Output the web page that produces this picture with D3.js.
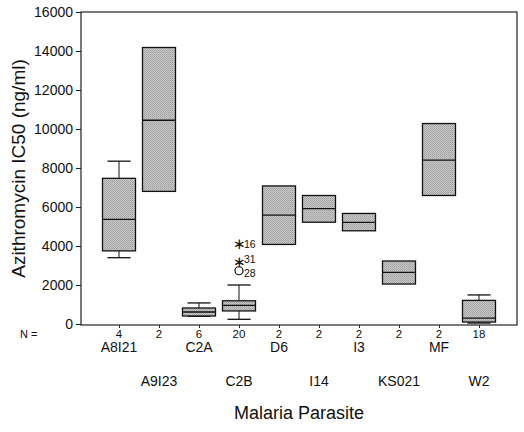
<!DOCTYPE html>
<html><head><meta charset="utf-8">
<script src="https://cdn.jsdelivr.net/npm/d3@7"></script>
<style>body{margin:0;background:#fff}svg{display:block;font-family:"Liberation Sans",Arial,sans-serif}</style>
</head><body><svg id="c" width="524" height="432"></svg>
<script>
const categories = ["A8I21","A9I23","C2A","C2B","D6","I14","I3","KS021","MF","W2"];
const counts = [4,2,6,20,2,2,2,2,2,18];
const whiskerLow = [3400,null,400,240,null,null,null,null,null,50];
const q1 = [3750,6800,410,670,4080,5220,4780,2050,6590,100];
const median = [5370,10450,615,960,5580,5920,5210,2650,8400,300];
const q3 = [7470,14180,820,1190,7080,6590,5670,3230,10280,1210];
const whiskerHigh = [8350,null,1080,2000,null,null,null,null,null,1490];
const outliers = [
  {cat:"C2B", value:4100, label:"16", symbol:"star"},
  {cat:"C2B", value:3190, label:"31", symbol:"star"},
  {cat:"C2B", value:2730, label:"28", symbol:"circle"}
];
const yTicks = [0,2000,4000,6000,8000,10000,12000,14000,16000];

const svg = d3.select("#c");
const defs = svg.append("defs");
const pat = defs.append("pattern").attr("id","stip").attr("patternUnits","userSpaceOnUse").attr("width",2).attr("height",2);
pat.append("rect").attr("width",2).attr("height",2).attr("fill","#c8c8c8");
pat.append("rect").attr("width",1).attr("height",1).attr("fill","#a0a0a0");
pat.append("rect").attr("x",1).attr("y",1).attr("width",1).attr("height",1).attr("fill","#acacac");

const L=81, R=517, T=12, B=325;
const x = d3.scalePoint().domain(categories).range([L,R]).padding(0.95);
const y = d3.scaleLinear().domain([0,16000]).range([B-1,T]);
const bw = 33;

svg.append("rect").attr("x",L).attr("y",T).attr("width",R-L).attr("height",B-T)
  .attr("fill","none").attr("stroke","#222").attr("stroke-width",1.2);

const ya = svg.append("g").attr("transform",`translate(${L},0)`)
  .call(d3.axisLeft(y).tickValues(yTicks).tickSize(5).tickPadding(3).tickFormat(d3.format("d")));
ya.select(".domain").remove();
ya.selectAll("line").attr("stroke","#222");
ya.selectAll("text").attr("font-size",14).attr("fill","#111");

const xa = svg.append("g").attr("transform",`translate(0,${B})`)
  .call(d3.axisBottom(x).tickSize(3).tickFormat(""));
xa.select(".domain").remove();
xa.selectAll("line").attr("stroke","#222");

svg.append("text").attr("x",20).attr("y",338).attr("font-size",11).attr("fill","#111").text("N =");
svg.selectAll(".n").data(categories).enter().append("text")
  .attr("x",d=>x(d)).attr("y",338).attr("text-anchor","middle").attr("font-size",11.5).attr("fill","#111")
  .text((d,i)=>counts[i]);

svg.selectAll(".cl").data(categories).enter().append("text")
  .attr("x",d=>x(d)).attr("y",(d,i)=> i%2===0 ? 352 : 386)
  .attr("text-anchor","middle").attr("font-size",14).attr("fill","#111").text(d=>d);

const g = svg.append("g");
categories.forEach((c,i)=>{
  const cx = x(c);
  if (whiskerHigh[i]!=null){
    g.append("line").attr("x1",cx).attr("x2",cx).attr("y1",y(q3[i])).attr("y2",y(whiskerHigh[i])).attr("stroke","#111");
    g.append("line").attr("x1",cx-bw*0.35).attr("x2",cx+bw*0.35).attr("y1",y(whiskerHigh[i])).attr("y2",y(whiskerHigh[i])).attr("stroke","#111").attr("stroke-width",1.3);
  }
  if (whiskerLow[i]!=null){
    g.append("line").attr("x1",cx).attr("x2",cx).attr("y1",y(q1[i])).attr("y2",y(whiskerLow[i])).attr("stroke","#111");
    g.append("line").attr("x1",cx-bw*0.35).attr("x2",cx+bw*0.35).attr("y1",y(whiskerLow[i])).attr("y2",y(whiskerLow[i])).attr("stroke","#111").attr("stroke-width",1.3);
  }
  g.append("rect").attr("x",cx-bw/2).attr("width",bw).attr("y",y(q3[i])).attr("height",y(q1[i])-y(q3[i]))
    .attr("fill","url(#stip)").attr("stroke","#111").attr("stroke-width",1.3);
  g.append("line").attr("x1",cx-bw/2).attr("x2",cx+bw/2).attr("y1",y(median[i])).attr("y2",y(median[i])).attr("stroke","#111").attr("stroke-width",1.3);
});

const labelShift = {"16":3.5, "31":1.5, "28":6};
outliers.forEach(o=>{
  const cx = x(o.cat), cy = y(o.value);
  if (o.symbol==="star"){
    g.append("text").attr("x",cx).attr("y",cy+5).attr("text-anchor","middle").attr("font-size",15).attr("fill","#111").text("\u2217");
  } else {
    g.append("circle").attr("cx",cx).attr("cy",cy).attr("r",4).attr("fill","none").attr("stroke","#111").attr("stroke-width",1.2);
  }
  g.append("text").attr("x",cx+5).attr("y",cy+labelShift[o.label]).attr("font-size",10.5).attr("fill","#111").text(o.label);
});

svg.append("text").attr("transform",`translate(25,${(T+B)/2}) rotate(-90)`).attr("text-anchor","middle")
  .attr("font-size",19).attr("fill","#111").text("Azithromycin IC50 (ng/ml)");
svg.append("text").attr("x",299).attr("y",419).attr("text-anchor","middle").attr("font-size",18).attr("fill","#111").text("Malaria Parasite");
</script></body></html>
